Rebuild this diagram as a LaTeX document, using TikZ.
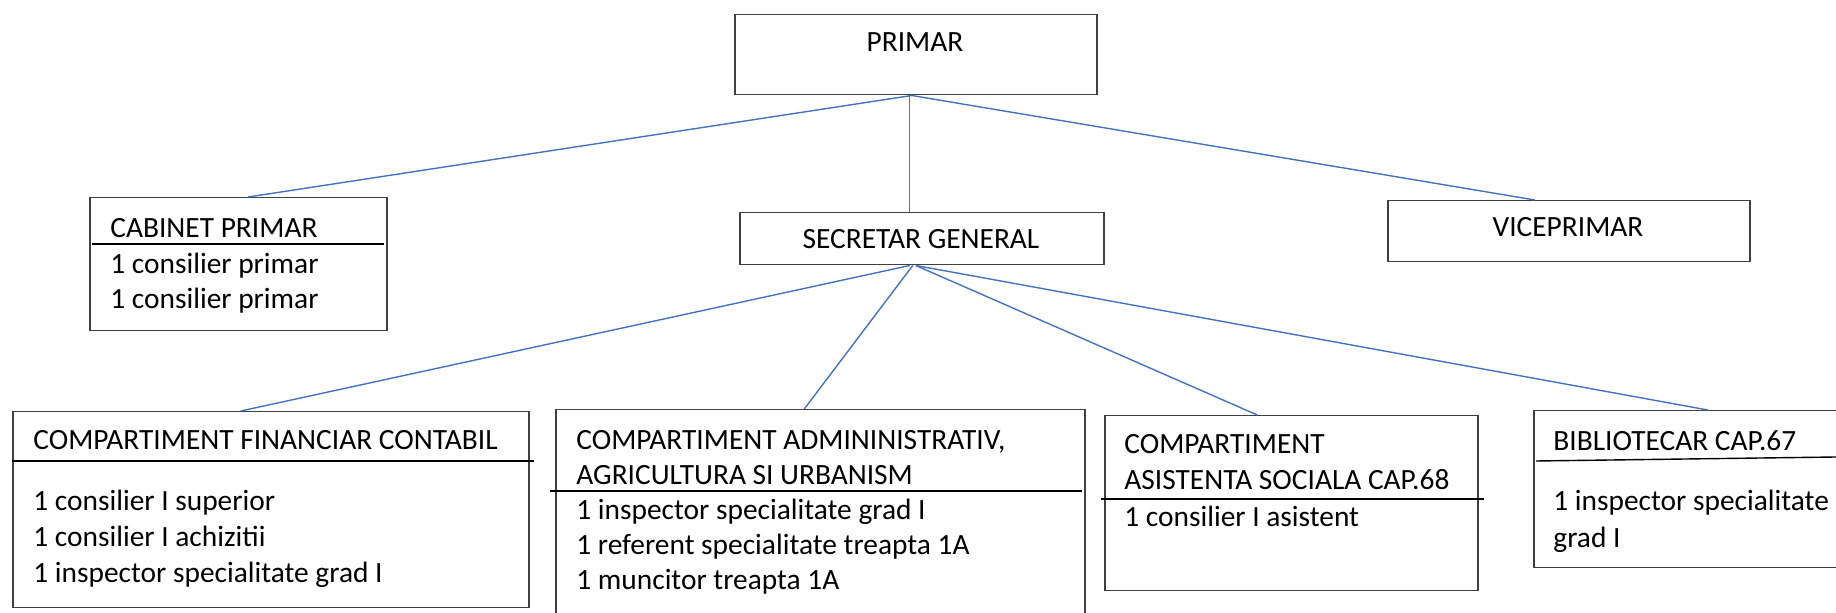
\documentclass[tikz,border=0pt]{standalone}
\usepackage{fontspec}
\setmainfont{Carlito}
\usepackage{tikz}
\definecolor{bb}{RGB}{64, 64, 64}
\definecolor{ll}{RGB}{68, 114, 196}
\def\px{0.5pt}
\newcommand{\orgfont}{\fontsize{14.7pt}{17.6pt}\selectfont}
\tikzset{unit/.style={draw=bb,line width=1.5*\px,rectangle,anchor=north west,inner sep=0pt},
	txt/.style={anchor=base west,inner sep=0pt,font=\orgfont},
	link/.style={draw=ll,line width=1.4*\px},
	rule/.style={draw=black,line width=1.4*\px}}
\newcommand{\unitbox}[5]{\node[unit,minimum width=#3*\px,minimum height=#4*\px] (#5) at (#1,#2) {};}

\begin{document}
\begin{tikzpicture}[x=\px,y=-\px]
\useasboundingbox (0,0) rectangle (1836,613);
\clip (0,0) rectangle (1836,613);

\unitbox{734}{14}{362}{80}{prim}
\unitbox{89}{197}{297}{133}{cab}
\unitbox{739}{212}{364}{52}{sec}
\unitbox{1387}{200}{362}{61}{vice}
\unitbox{12}{411}{516}{196}{fin}
\unitbox{555}{409}{529}{220}{adm}
\unitbox{1104}{415}{373}{175}{asis}
\unitbox{1533}{410}{330}{157}{bib}

\node[txt,anchor=base] (prim-t) at (915,52) {PRIMAR};
\node[txt,anchor=base] (sec-t) at (921,249) {SECRETAR GENERAL};
\node[txt,anchor=base] (vice-t) at (1568,237) {VICEPRIMAR};

\node[txt] (cab-t) at (110,238) {CABINET PRIMAR};
\node[txt] (cab-1) at (110,274) {1 consilier primar};
\node[txt] (cab-2) at (110,309) {1 consilier primar};
\draw[rule,line width=2.6*\px] (92,244) -- (384,244);

\node[txt] (fin-t) at (33,450) {COMPARTIMENT FINANCIAR CONTABIL};
\node[txt] (fin-1) at (33,511) {1 consilier I superior};
\node[txt] (fin-2) at (33,547) {1 consilier I achizitii};
\node[txt] (fin-3) at (33,583) {1 inspector specialitate grad I};
\draw[rule] (12,461) -- (534,461);

\node[txt] (adm-t1) at (576,450) {COMPARTIMENT ADMININISTRATIV,};
\node[txt] (adm-t2) at (576,485) {AGRICULTURA SI URBANISM};
\node[txt] (adm-1) at (576,520) {1 inspector specialitate grad I};
\node[txt] (adm-2) at (576,555) {1 referent specialitate treapta 1A};
\node[txt] (adm-3) at (576,590) {1 muncitor treapta 1A};
\draw[rule] (550,491) -- (1082,491);

\node[txt] (asis-t1) at (1124,454) {COMPARTIMENT};
\node[txt] (asis-t2) at (1124,490) {ASISTENTA SOCIALA CAP.68};
\node[txt] (asis-1) at (1124,527) {1 consilier I asistent};
\draw[rule] (1101,499) -- (1484,499);

\node[txt] (bib-t) at (1553,451) {BIBLIOTECAR CAP.67};
\node[txt] (bib-1) at (1553,511) {1 inspector specialitate};
\node[txt] (bib-2) at (1553,548) {grad I};
\draw[rule] (1536,461) -- (1836,457);

\draw[link] ([xshift=-4*\px]prim.south) -- ([xshift=10*\px]cab.north);
\draw[link] ([xshift=-6*\px]prim.south) -- ([xshift=-12*\px]sec.north);
\draw[link] ([xshift=-4*\px]prim.south) -- ([xshift=-34*\px]vice.north);
\draw[link] ([xshift=-12*\px]sec.south) -- ([xshift=-30*\px]fin.north);
\draw[link] ([xshift=-9*\px]sec.south) -- ([xshift=-16*\px]adm.north);
\draw[link] ([xshift=-6*\px]sec.south) -- ([xshift=-34*\px]asis.north);
\draw[link] ([xshift=-6*\px]sec.south) -- ([xshift=9*\px]bib.north);
\end{tikzpicture}
\end{document}
